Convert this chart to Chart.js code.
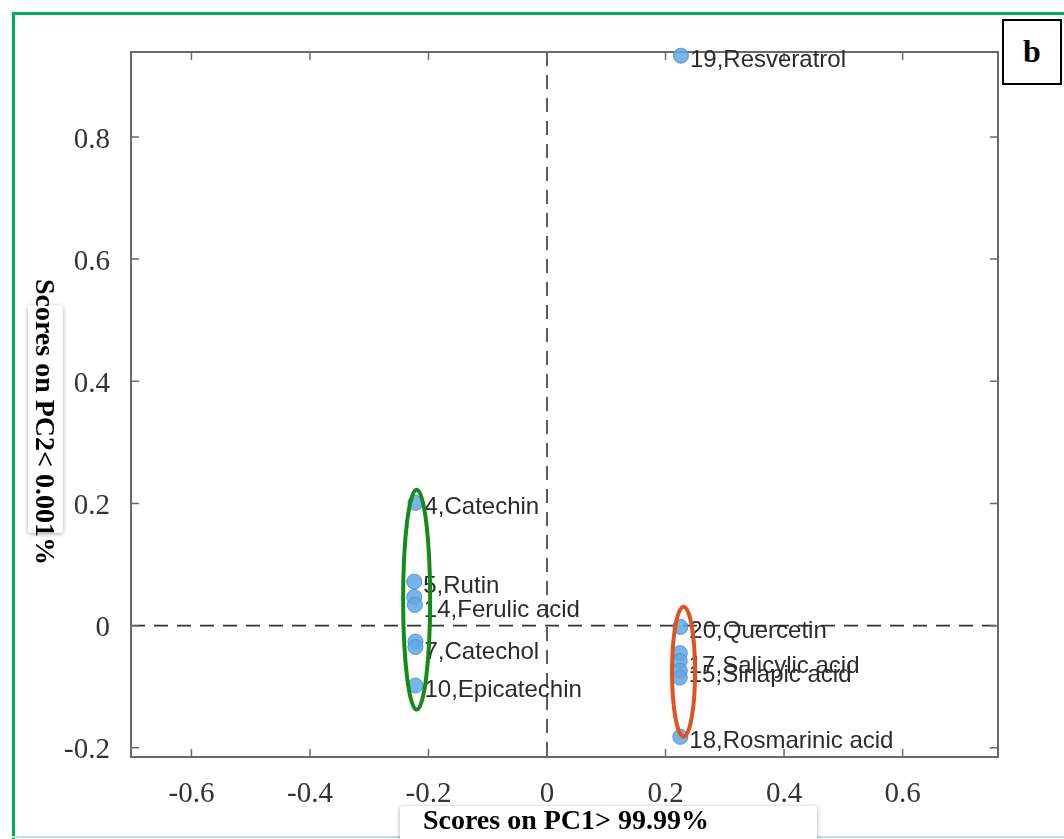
<!DOCTYPE html>
<html>
<head>
<meta charset="utf-8">
<script src="https://cdn.jsdelivr.net/npm/chart.js@4.4.1/dist/chart.umd.min.js"></script>
<style>
  html, body { margin: 0; padding: 0; background: #fff; }
  #wrap { position: relative; width: 1064px; height: 839px; overflow: hidden; background: #fff; }
  #frame { position: absolute; left: 12px; top: 12px; width: 1100px; height: 900px; border-left: 3px solid #00b050; border-top: 3px solid #00b050; box-sizing: border-box; }
  #frameBottom { position: absolute; left: 12px; top: 836px; width: 1064px; height: 2px; background: #b8e8cb; }
  #chart { position: absolute; left: 0; top: 0; }
  .tbox { position: absolute; background: #fff; box-shadow: 0 1px 4px rgba(0,0,0,0.35); border-radius: 3px; }
  .title { position: absolute; font-family: "Liberation Serif", "Times New Roman", serif; font-weight: bold; font-size: 28px; color: #000; white-space: nowrap; }
  #ytitle { left: 45px; top: 422px; transform: translate(-50%, -50%) rotate(90deg); }
  #xtitle { left: 566px; top: 820px; transform: translate(-50%, -50%); }
  #bbox { position: absolute; left: 1002px; top: 19px; width: 60px; height: 66px; box-sizing: border-box; border: 2px solid #000; background: #fff;
          font-family: "Liberation Serif", "Times New Roman", serif; font-weight: bold; font-size: 32px; line-height: 60px; text-align: center; }
</style>
</head>
<body>
<div id="wrap">
  <div id="frame"></div>
  <div id="frameBottom"></div>
  <canvas id="chart" width="1064" height="839"></canvas>
  <div class="tbox" style="left:28px; top:305px; width:35px; height:228px;"></div>
  <div class="title" id="ytitle">Scores on PC2&lt; 0.001%</div>
  <div class="tbox" style="left:400px; top:806px; width:417px; height:45px;"></div>
  <div class="title" id="xtitle">Scores on PC1&gt; 99.99%</div>
  <div id="bbox">b</div>
</div>
<script>
// ---- data ----
const compoundLabels = ["4,Catechin", "5,Rutin", "", "14,Ferulic acid", "", "7,Catechol", "10,Epicatechin",
                        "20,Quercetin", "", "17,Salicylic acid", "15,Sinapic acid", "", "18,Rosmarinic acid", "19,Resveratrol"];
const pc1Scores = [-0.222, -0.224, -0.224, -0.223, -0.222, -0.222, -0.222,
                   0.225, 0.224, 0.224, 0.224, 0.224, 0.225, 0.226];
const pc2Scores = [0.201, 0.072, 0.047, 0.034, -0.026, -0.035, -0.098,
                   -0.002, -0.045, -0.058, -0.074, -0.085, -0.182, 0.933];
const xTicks = [-0.6, -0.4, -0.2, 0, 0.2, 0.4, 0.6];
const yTicks = [-0.2, 0, 0.2, 0.4, 0.6, 0.8];
const xRange = [-0.702, 0.761];
const yRange = [-0.215, 0.939];
// group ellipses (data units)
const ellipseCenterX = [-0.220, 0.2304];
const ellipseCenterY = [0.0426, -0.0753];
const ellipseRadiusX = [0.0228, 0.0194];
const ellipseRadiusY = [0.180, 0.1064];
const ellipseColors = ["#168a16", "#e0531f"];

const points = pc1Scores.map((x, i) => ({ x: x, y: pc2Scores[i] }));

const decorPlugin = {
  id: 'decor',
  beforeDatasetsDraw(chart) {
    const { ctx, chartArea: a, scales: { x, y } } = chart;
    ctx.save();
    ctx.strokeStyle = '#333';
    ctx.lineWidth = 1.6;
    ctx.setLineDash([14, 9]);
    const x0 = x.getPixelForValue(0), y0 = y.getPixelForValue(0);
    ctx.beginPath();
    ctx.moveTo(x0, a.top); ctx.lineTo(x0, a.bottom);
    ctx.moveTo(a.left, y0); ctx.lineTo(a.right, y0);
    ctx.stroke();
    ctx.setLineDash([]);
    ctx.strokeStyle = '#6a6a6a';
    ctx.lineWidth = 2;
    ctx.strokeRect(a.left, a.top, a.right - a.left, a.bottom - a.top);
    ctx.lineWidth = 1.5;
    ctx.beginPath();
    xTicks.forEach(v => {
      const px = x.getPixelForValue(v);
      ctx.moveTo(px, a.bottom); ctx.lineTo(px, a.bottom - 8);
      ctx.moveTo(px, a.top); ctx.lineTo(px, a.top + 8);
    });
    yTicks.forEach(v => {
      const py = y.getPixelForValue(v);
      ctx.moveTo(a.left, py); ctx.lineTo(a.left + 8, py);
      ctx.moveTo(a.right, py); ctx.lineTo(a.right - 8, py);
    });
    ctx.stroke();
    ctx.restore();
  },
  afterDatasetsDraw(chart) {
    const { ctx, scales: { x, y } } = chart;
    const meta = chart.getDatasetMeta(0);
    ctx.save();
    ctx.font = '24px "Liberation Sans", Arial, sans-serif';
    ctx.fillStyle = '#2b2b2b';
    ctx.textBaseline = 'middle';
    ctx.textAlign = 'left';
    meta.data.forEach((pt, i) => {
      const t = compoundLabels[i];
      if (t) ctx.fillText(t, pt.x + 9, pt.y + 5);
    });
    ctx.lineWidth = 4;
    ellipseCenterX.forEach((cx, i) => {
      const px = x.getPixelForValue(cx), py = y.getPixelForValue(ellipseCenterY[i]);
      const rx = Math.abs(x.getPixelForValue(cx + ellipseRadiusX[i]) - px);
      const ry = Math.abs(y.getPixelForValue(ellipseCenterY[i] + ellipseRadiusY[i]) - py);
      ctx.strokeStyle = ellipseColors[i];
      ctx.beginPath();
      ctx.ellipse(px, py, rx, ry, 0, 0, Math.PI * 2);
      ctx.stroke();
    });
    ctx.restore();
  }
};

new Chart(document.getElementById('chart'), {
  type: 'scatter',
  data: {
    datasets: [{
      data: points,
      pointRadius: 7.5,
      pointHoverRadius: 7.5,
      pointBackgroundColor: 'rgba(96,168,226,0.85)',
      pointBorderColor: '#4a96d6',
      pointBorderWidth: 1,
      clip: false
    }]
  },
  options: {
    responsive: false,
    animation: false,
    devicePixelRatio: 1,
    layout: { padding: { left: 0, top: 52, right: 66, bottom: 0 } },
    plugins: { legend: { display: false }, tooltip: { enabled: false } },
    scales: {
      x: {
        type: 'linear',
        min: xRange[0], max: xRange[1],
        afterBuildTicks: s => { s.ticks = xTicks.map(v => ({ value: v })); },
        afterFit: s => { s.height = 82; },
        grid: { display: false },
        border: { display: false },
        ticks: {
          autoSkip: false, maxRotation: 0,
          padding: 12,
          color: '#333',
          font: { family: '"Liberation Serif", "Times New Roman", serif', size: 29 },
          callback: v => String(v)
        }
      },
      y: {
        type: 'linear',
        min: yRange[0], max: yRange[1],
        afterBuildTicks: s => { s.ticks = yTicks.map(v => ({ value: v })); },
        afterFit: s => { s.width = 131; },
        grid: { display: false },
        border: { display: false },
        ticks: {
          autoSkip: false,
          padding: 13,
          labelOffset: 3,
          color: '#333',
          font: { family: '"Liberation Serif", "Times New Roman", serif', size: 29 },
          callback: v => String(v)
        }
      }
    }
  },
  plugins: [decorPlugin]
});
</script>
</body>
</html>
